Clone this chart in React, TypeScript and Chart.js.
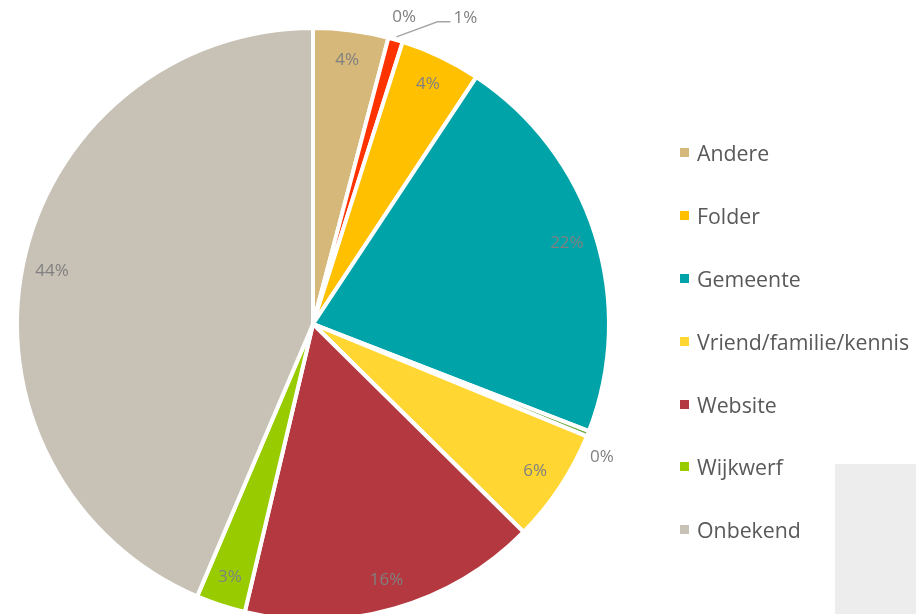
import React, { useEffect, useRef } from "react";
import { Chart, registerables } from "chart.js";

Chart.register(...registerables);

// Categories in drawing order (clockwise from 12 o'clock)
const categories = [
  "Andere",
  "Niet vermeld 1",
  "Niet vermeld 2",
  "Folder",
  "Gemeente",
  "Niet vermeld 3",
  "Vriend/familie/kennis",
  "Website",
  "Wijkwerf",
  "Onbekend",
];
const values = [4.1, 0, 0.8, 4.4, 21.6, 0.3, 6.2, 16.3, 2.7, 43.6];
const colors = [
  "#D6B87A",
  "#E97132",
  "#FF3300",
  "#FFC000",
  "#00A3A8",
  "#70AD47",
  "#FFD632",
  "#B3383F",
  "#99CC00",
  "#C8C1B5",
];
const inLegend = [true, false, false, true, true, false, true, true, true, true];
// how each slice label is placed: inside, outside, or with a leader line
const labelModes = ["in", "out", "leader", "in", "in", "out", "in", "in", "in", "in"];
const outsideNudge: Record<number, { dr: number; dAngle: number }> = {
  1: { dr: 24, dAngle: 1.8 },
  5: { dr: 22, dAngle: 2.9 },
};

const LABEL_FONT = "17px 'Open Sans'";
const LABEL_COLOR = "#808080";

const sliceLabelPlugin = {
  id: "sliceLabels",
  afterDatasetsDraw(chart: any) {
    const ctx = chart.ctx as CanvasRenderingContext2D;
    const meta = chart.getDatasetMeta(0);
    meta.data.forEach((arc: any, i: number) => {
      const p = arc.getProps(["x", "y", "startAngle", "endAngle", "outerRadius"], true);
      const mid = (p.startAngle + p.endAngle) / 2;
      const R = p.outerRadius;
      const text = Math.round(values[i]) + "%";
      ctx.save();
      ctx.font = LABEL_FONT;
      ctx.fillStyle = LABEL_COLOR;
      ctx.textBaseline = "middle";
      const mode = labelModes[i];
      if (mode === "in") {
        const r = R * 0.9;
        ctx.textAlign = "center";
        ctx.fillText(text, p.x + r * Math.cos(mid), p.y + r * Math.sin(mid));
      } else if (mode === "out") {
        const n = outsideNudge[i] || { dr: 24, dAngle: 0 };
        const a = mid + (n.dAngle * Math.PI) / 180;
        const r = R + n.dr;
        ctx.textAlign = "center";
        ctx.fillText(text, p.x + r * Math.cos(a), p.y + r * Math.sin(a));
      } else {
        const sx = p.x + (R + 3) * Math.cos(mid);
        const sy = p.y + (R + 3) * Math.sin(mid);
        const ex = sx + 41;
        const ey = sy - 15;
        const hx = ex + 13;
        ctx.strokeStyle = "#A6A6A6";
        ctx.lineWidth = 1.5;
        ctx.beginPath();
        ctx.moveTo(sx, sy);
        ctx.lineTo(ex, ey);
        ctx.lineTo(hx, ey);
        ctx.stroke();
        ctx.textAlign = "left";
        ctx.fillText(text, hx + 3, ey - 4);
      }
      ctx.restore();
    });
  },
};

export default function App() {
  const canvasRef = useRef<HTMLCanvasElement | null>(null);

  useEffect(() => {
    if (!canvasRef.current) return;
    const chart = new Chart(canvasRef.current, {
      type: "pie",
      data: {
        labels: categories,
        datasets: [
          {
            data: values,
            backgroundColor: colors,
            borderColor: "#FFFFFF",
            borderWidth: 4,
          },
        ],
      },
      options: {
        responsive: false,
        animation: false,
        layout: { padding: { left: 15, right: 305, top: 26, bottom: 18 } },
        plugins: {
          legend: { display: false },
          tooltip: { enabled: false },
        },
      },
      plugins: [sliceLabelPlugin],
    });
    return () => chart.destroy();
  }, []);

  const legendItems = categories
    .map((c, i) => ({ c, color: colors[i], show: inLegend[i] }))
    .filter((d) => d.show);

  return (
    <div
      style={{
        position: "fixed",
        left: 0,
        top: 0,
        width: 916,
        height: 614,
        overflow: "hidden",
        background: "#FFFFFF",
      }}
    >
      <div
        style={{
          position: "absolute",
          left: 835,
          top: 464,
          width: 81,
          height: 150,
          background: "#EDEDED",
        }}
      />
      <canvas
        ref={canvasRef}
        width={916}
        height={640}
        style={{ position: "absolute", left: 0, top: 0, width: 916, height: 640, display: "block" }}
      />
      <div
        style={{
          position: "absolute",
          left: 680,
          top: 121.6,
          fontFamily: "'Open Sans', sans-serif",
          fontSize: 21.3,
          color: "#595959",
        }}
      >
        {legendItems.map((d) => (
          <div
            key={d.c}
            style={{ height: 62.8, display: "flex", alignItems: "center", whiteSpace: "nowrap" }}
          >
            <span
              style={{
                display: "inline-block",
                width: 9,
                height: 9,
                background: d.color,
                marginRight: 8,
              }}
            />
            <span>{d.c}</span>
          </div>
        ))}
      </div>
    </div>
  );
}
